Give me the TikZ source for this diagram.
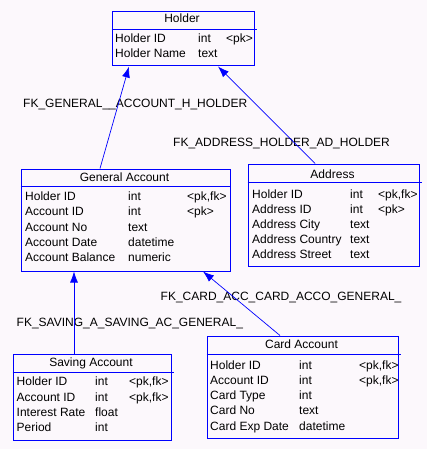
\documentclass[tikz,border=0pt]{standalone}
\usepackage{fontspec}
\setmainfont{Liberation Sans}
\usetikzlibrary{arrows.meta,
  backgrounds,
  calc}
\definecolor{erblue}{RGB}{0,0,255}
\definecolor{paper}{RGB}{252,248,252}

\begin{document}
\begin{tikzpicture}[x=1pt,y=-1pt,font=\fontsize{12}{14}\selectfont]
    % Define styles for tables, fields and links
    \tikzstyle{erbox} = [rectangle, draw=erblue, line width=1pt, anchor=north west, inner sep=0pt]
    \tikzstyle{title} = [anchor=base, inner sep=0pt]
    \tikzstyle{field} = [anchor=base west, inner sep=0pt]
    \tikzstyle{fklabel} = [anchor=base west, inner sep=0pt]
    \tikzstyle{headrule} = [color=erblue, line width=1pt]
    % Arrow style for foreign keys
    \tikzset{fkArrow/.style={color=erblue, line width=0.7pt,
        -{Latex[length=11pt,width=8pt]}
    }}
    \useasboundingbox[fill=paper] (0,0) rectangle (427,449);
    % Tables
    \node (holder) [erbox, minimum width=142, minimum height=54] at (111.5,11.5) {};
    \node (general) [erbox, minimum width=209, minimum height=102] at (20.5,168.5) {};
    \node (address) [erbox, minimum width=171, minimum height=102] at (247.5,163.5) {};
    \node (saving) [erbox, minimum width=158, minimum height=86] at (12.5,353.5) {};
    \node (card) [erbox, minimum width=191, minimum height=102] at (206.5,335.5) {};
    % Header rules
    \draw [headrule] ([yshift=-18]holder.north west) -- ([xshift=2,yshift=-18]holder.north east);
    \draw [headrule] ([yshift=-18]general.north west) -- ([yshift=-18]general.north east);
    \draw [headrule] ([yshift=-19]address.north west) -- ([xshift=2,yshift=-19]address.north east);
    \draw [headrule] ([yshift=-19]saving.north west) -- ([xshift=2,yshift=-19]saving.north east);
    \draw [headrule] ([yshift=-19]card.north west) -- ([xshift=2,yshift=-19]card.north east);
    % Holder
    \node (holdertitle) [title] at (182,23) {Holder};
    \node (hid) [field] at (115,43) {Holder ID};
    \node (hidt) [field] at (198,43) {int};
    \node (hidk) [field] at (226,43) {<pk>};
    \node (hname) [field] at (115,57.5) {Holder Name};
    \node (hnamet) [field] at (198,57.5) {text};
    % General Account
    \node (generaltitle) [title] at (124.5,181) {General Account};
    \node (gholder) [field] at (25,200.5) {Holder ID};
    \node (gholdert) [field] at (128,200.5) {int};
    \node (gholderk) [field] at (187,200.5) {<pk,fk>};
    \node (gid) [field] at (25,215.8) {Account ID};
    \node (gidt) [field] at (128,215.8) {int};
    \node (gidk) [field] at (187,215.8) {<pk>};
    \node (gno) [field] at (25,231) {Account No};
    \node (gnot) [field] at (128,231) {text};
    \node (gdate) [field] at (25,246.3) {Account Date};
    \node (gdatet) [field] at (128,246.3) {datetime};
    \node (gbal) [field] at (25,261.6) {Account Balance};
    \node (gbalt) [field] at (128,261.6) {numeric};
    % Address
    \node (addresstitle) [title] at (332.5,178.3) {Address};
    \node (aholder) [field] at (252,198.3) {Holder ID};
    \node (aholdert) [field] at (350,198.3) {int};
    \node (aholderk) [field] at (378,198.3) {<pk,fk>};
    \node (aid) [field] at (252,213.3) {Address ID};
    \node (aidt) [field] at (350,213.3) {int};
    \node (aidk) [field] at (378,213.3) {<pk>};
    \node (acity) [field] at (252,228.3) {Address City};
    \node (acityt) [field] at (350,228.3) {text};
    \node (acountry) [field] at (252,243.3) {Address Country};
    \node (acountryt) [field] at (350,243.3) {text};
    \node (astreet) [field] at (252,258.3) {Address Street};
    \node (astreett) [field] at (350,258.3) {text};
    % Saving Account
    \node (savingtitle) [title] at (91,366.7) {Saving Account};
    \node (sholder) [field] at (16.5,385.7) {Holder ID};
    \node (sholdert) [field] at (95,385.7) {int};
    \node (sholderk) [field] at (129,385.7) {<pk,fk>};
    \node (sid) [field] at (16.5,401) {Account ID};
    \node (sidt) [field] at (95,401) {int};
    \node (sidk) [field] at (129,401) {<pk,fk>};
    \node (srate) [field] at (16.5,416.5) {Interest Rate};
    \node (sratet) [field] at (95,416.5) {float};
    \node (speriod) [field] at (16.5,431.7) {Period};
    \node (speriodt) [field] at (95,431.7) {int};
    % Card Account
    \node (cardtitle) [title] at (301.5,348.3) {Card Account};
    \node (cholder) [field] at (210,369) {Holder ID};
    \node (choldert) [field] at (299,369) {int};
    \node (cholderk) [field] at (359,369) {<pk,fk>};
    \node (cid) [field] at (210,384.3) {Account ID};
    \node (cidt) [field] at (299,384.3) {int};
    \node (cidk) [field] at (359,384.3) {<pk,fk>};
    \node (ctype) [field] at (210,399.5) {Card Type};
    \node (ctypet) [field] at (299,399.5) {int};
    \node (cno) [field] at (210,414.7) {Card No};
    \node (cnot) [field] at (299,414.7) {text};
    \node (cexp) [field] at (210,430) {Card Exp Date};
    \node (cexpt) [field] at (299,430) {datetime};
    % Foreign key labels
    \node (fkgeneral) [fklabel] at (23,108) {FK\_GENERAL\_\_ACCOUNT\_H\_HOLDER};
    \node (fkaddress) [fklabel] at (173,146.7) {FK\_ADDRESS\_HOLDER\_AD\_HOLDER};
    \node (fkcard) [fklabel] at (160.5,300) {FK\_CARD\_ACC\_CARD\_ACCO\_GENERAL\_};
    \node (fksaving) [fklabel] at (16.5,326.5) {FK\_SAVING\_A\_SAVING\_AC\_GENERAL\_};
    % Links
    \draw [fkArrow] (general.north -| 100,0) -- (holder.south -| 129,0);
    \draw [fkArrow] (address.north -| 315,0) -- (holder.south -| 218,0);
    \draw [fkArrow] (saving.north -| 74,0) -- (general.south -| 74,0);
    \draw [fkArrow] (card.north -| 280,0) -- (general.south -| 203,0);
\end{tikzpicture}
\end{document}
